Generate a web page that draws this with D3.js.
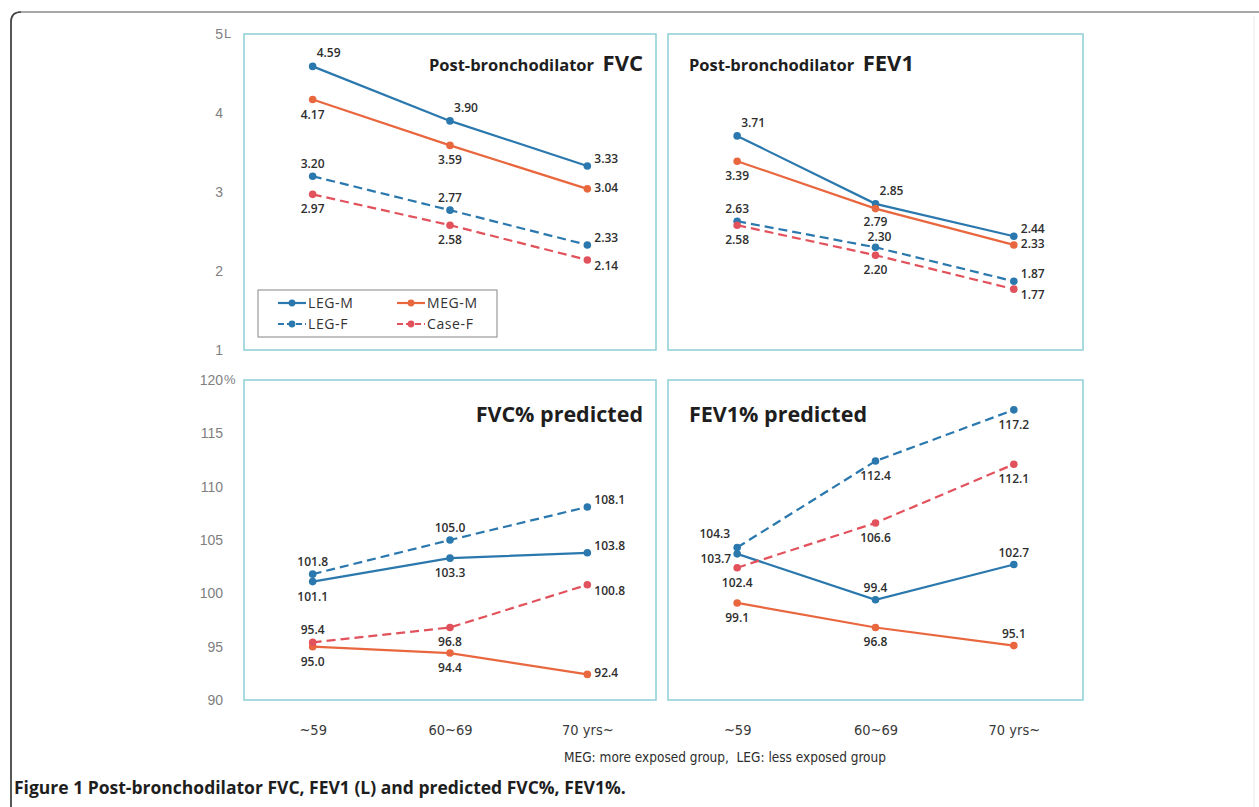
<!DOCTYPE html>
<html>
<head>
<meta charset="utf-8">
<script src="https://cdn.jsdelivr.net/npm/d3@7"></script>
<style>
  body { margin: 0; background: #fff; }
  svg { display: block; }
  .tick text { font-family: "Liberation Sans", sans-serif; }
</style>
</head>
<body>
<svg id="chart" width="1259" height="807"></svg>
<script>
// age groups on the x axis
const ages = ["~59", "60~69", "70 yrs~"];
const seriesNames = ["LEG-M", "MEG-M", "LEG-F", "Case-F"];

// post-bronchodilator FVC (L)
const fvcLegM = [4.59, 3.90, 3.33];
const fvcMegM = [4.17, 3.59, 3.04];
const fvcLegF = [3.20, 2.77, 2.33];
const fvcCaseF = [2.97, 2.58, 2.14];

// post-bronchodilator FEV1 (L)
const fev1LegM = [3.71, 2.85, 2.44];
const fev1MegM = [3.39, 2.79, 2.33];
const fev1LegF = [2.63, 2.30, 1.87];
const fev1CaseF = [2.58, 2.20, 1.77];

// FVC% predicted
const fvcPctLegM = [101.1, 103.3, 103.8];
const fvcPctMegM = [95.0, 94.4, 92.4];
const fvcPctLegF = [101.8, 105.0, 108.1];
const fvcPctCaseF = [95.4, 96.8, 100.8];

// FEV1% predicted
const fev1PctLegM = [103.7, 99.4, 102.7];
const fev1PctMegM = [99.1, 96.8, 95.1];
const fev1PctLegF = [104.3, 112.4, 117.2];
const fev1PctCaseF = [102.4, 106.6, 112.1];

const litreTicks = [1, 2, 3, 4, 5];
const pctTicks = [90, 95, 100, 105, 110, 115, 120];

// where each value label sits relative to its point
const fvcLabelPos = [["ar", "ar", "ru"], ["b", "b", "r"], ["a", "a", "ru"], ["b", "b", "rd"]];
const fev1LabelPos = [["ar", "ar", "ru"], ["b", "b2", "r"], ["a", "a2", "ru"], ["b", "b", "rd"]];
const fvcPctLabelPos = [["b", "b", "ru"], ["b", "b", "r"], ["a", "a", "ru"], ["a", "b", "rd"]];
const fev1PctLabelPos = [["l", "a", "a"], ["b", "b", "a"], ["al", "b", "b"], ["b", "b", "b"]];

const colors = { "LEG-M": "#2a78ad", "MEG-M": "#e9673f", "LEG-F": "#2a78ad", "Case-F": "#e2525c" };
const dashed = { "LEG-M": false, "MEG-M": false, "LEG-F": true, "Case-F": true };

const svg = d3.select("#chart");

// figure frame
svg.append("path").attr("d", "M11,807 L11,22 Q11,12 21,12 L1259,12")
  .attr("fill", "none").attr("stroke", "#8a8a8a").attr("stroke-width", 1.5);
svg.append("path").attr("d", "M11,807 L11,22 Q11,12 21,12")
  .attr("fill", "none").attr("stroke", "#444").attr("stroke-width", 1.6);
svg.append("line").attr("x1", 1254).attr("x2", 1254).attr("y1", 16).attr("y2", 807)
  .attr("stroke", "#ececec").attr("stroke-width", 1);

const panels = [
  { x0: 244, x1: 656, y0: 34, y1: 350, domain: [1, 5], ticks: litreTicks, unit: "L", axis: true,
    data: [fvcLegM, fvcMegM, fvcLegF, fvcCaseF], labelPos: fvcLabelPos,
    title: ["Post-bronchodilator  ", "FVC"], titleAnchor: "end", legend: true, xAxis: false },
  { x0: 668, x1: 1083, y0: 34, y1: 350, domain: [1, 5], ticks: litreTicks, unit: "L", axis: false,
    data: [fev1LegM, fev1MegM, fev1LegF, fev1CaseF], labelPos: fev1LabelPos,
    title: ["Post-bronchodilator  ", "FEV1"], titleAnchor: "start", legend: false, xAxis: false },
  { x0: 244, x1: 656, y0: 380, y1: 700, domain: [90, 120], ticks: pctTicks, unit: "%", axis: true,
    data: [fvcPctLegM, fvcPctMegM, fvcPctLegF, fvcPctCaseF], labelPos: fvcPctLabelPos,
    title: ["", "FVC% predicted"], titleAnchor: "end", legend: false, xAxis: true },
  { x0: 668, x1: 1083, y0: 380, y1: 700, domain: [90, 120], ticks: pctTicks, unit: "%", axis: false,
    data: [fev1PctLegM, fev1PctMegM, fev1PctLegF, fev1PctCaseF], labelPos: fev1PctLabelPos,
    title: ["", "FEV1% predicted"], titleAnchor: "start", legend: false, xAxis: true }
];

const offsets = {
  a:  { anchor: "middle", dx: 0, dy: -12 },
  a2: { anchor: "middle", dx: 4, dy: -10 },
  b:  { anchor: "middle", dx: 0, dy: 15 },
  b2: { anchor: "middle", dx: 0, dy: 13 },
  ar: { anchor: "middle", dx: 16, dy: -13 },
  r:  { anchor: "start", dx: 7, dy: -1 },
  ru: { anchor: "start", dx: 7, dy: -7 },
  rd: { anchor: "start", dx: 7, dy: 6 },
  l:  { anchor: "end", dx: -6, dy: 5 },
  al: { anchor: "end", dx: -7, dy: -13 }
};

panels.forEach(p => {
  const w = p.x1 - p.x0, h = p.y1 - p.y0;
  const g = svg.append("g").attr("transform", `translate(${p.x0},${p.y0})`);
  const x = d3.scalePoint().domain(ages).range([0, w]).padding(0.5);
  const y = d3.scaleLinear().domain(p.domain).range([h, 0]);

  g.append("rect").attr("width", w).attr("height", h)
    .attr("fill", "#fff").attr("stroke", "#93d2d8").attr("stroke-width", 1.6);

  if (p.axis) {
    const ax = g.append("g")
      .call(d3.axisLeft(y).tickValues(p.ticks).tickSize(0).tickPadding(21).tickFormat(d3.format("d")));
    ax.select(".domain").remove();
    ax.selectAll("text").attr("fill", "#808080").style("font-size", "14px");
    g.append("text").attr("x", -20).attr("y", y(p.domain[1]) + 4)
      .attr("fill", "#808080").style("font-family", "Liberation Sans, sans-serif")
      .style("font-size", "13px").text(p.unit);
  }

  if (p.xAxis) {
    const xa = g.append("g").attr("transform", `translate(0,${h})`)
      .call(d3.axisBottom(x).tickSize(0).tickPadding(25));
    xa.select(".domain").remove();
    xa.selectAll("text").attr("fill", "#3a3a3a")
      .style("font-family", "DejaVu Sans Condensed, DejaVu Sans, sans-serif")
      .style("font-stretch", "condensed").style("font-size", "14.5px");
  }

  // title
  const t = g.append("text").attr("text-anchor", p.titleAnchor)
    .attr("x", p.titleAnchor === "end" ? w - 13 : 21)
    .attr("y", p.title[0] ? 37 : 42)
    .attr("fill", "#1e1e1e").style("font-family", "Open Sans, sans-serif").style("font-weight", 700)
    .style("white-space", "pre");
  if (p.title[0]) t.append("tspan").style("font-size", "16.5px").text(p.title[0]);
  t.append("tspan").style("font-size", p.title[0] ? "22px" : "21.5px").text(p.title[1]);

  const line = d3.line().x((d, i) => x(ages[i])).y(d => y(d));

  seriesNames.forEach((name, si) => {
    const vals = p.data[si];
    g.append("path").datum(vals)
      .attr("fill", "none").attr("stroke", colors[name]).attr("stroke-width", 2.2)
      .attr("stroke-dasharray", dashed[name] ? "9,5" : null)
      .attr("d", line);
    g.selectAll(null).data(vals).join("circle")
      .attr("cx", (d, i) => x(ages[i])).attr("cy", d => y(d)).attr("r", 3.8)
      .attr("fill", colors[name]);
  });

  seriesNames.forEach((name, si) => {
    const vals = p.data[si];
    g.selectAll(null).data(vals).join("text")
      .attr("x", (d, i) => x(ages[i]) + offsets[p.labelPos[si][i]].dx)
      .attr("y", (d, i) => y(d) + offsets[p.labelPos[si][i]].dy + 4)
      .attr("text-anchor", (d, i) => offsets[p.labelPos[si][i]].anchor)
      .attr("fill", "#2e2e2e").style("font-family", "Open Sans, sans-serif")
      .style("font-weight", 600).style("font-size", "12px")
      .text(d => p.domain[1] > 10 ? d.toFixed(1) : d.toFixed(2));
  });

  if (p.legend) {
    const lg = g.append("g").attr("transform", "translate(14,256)");
    lg.append("rect").attr("width", 239).attr("height", 47)
      .attr("fill", "#fff").attr("stroke", "#9a9a9a").attr("stroke-width", 1.2);
    seriesNames.forEach((name, i) => {
      const col = i % 2, row = Math.floor(i / 2);
      const e = lg.append("g").attr("transform", `translate(${20 + col * 119},${13 + row * 21})`);
      e.append("line").attr("x1", 0).attr("x2", 28)
        .attr("stroke", colors[name]).attr("stroke-width", 2.2)
        .attr("stroke-dasharray", dashed[name] ? "6,3" : null);
      e.append("circle").attr("cx", 14).attr("r", 3.4).attr("fill", colors[name]);
      e.append("text").attr("x", 30).attr("y", 5).attr("fill", "#333")
        .style("font-family", "Open Sans, sans-serif").style("font-size", "14px")
        .style("letter-spacing", "0.6px").text(name);
    });
  }
});

svg.append("text").attr("x", 725).attr("y", 762).attr("text-anchor", "middle")
  .attr("fill", "#2e2e2e").style("font-family", "DejaVu Sans Condensed, DejaVu Sans, sans-serif")
  .style("font-stretch", "condensed").style("font-size", "13.5px").style("white-space", "pre")
  .text("MEG: more exposed group,  LEG: less exposed group");

svg.append("text").attr("x", 14).attr("y", 794)
  .attr("fill", "#1e1e1e").style("font-family", "Open Sans, sans-serif")
  .style("font-weight", 700).style("font-size", "17.5px")
  .text("Figure 1 Post-bronchodilator FVC, FEV1 (L) and predicted FVC%, FEV1%.");
</script>
</body>
</html>
